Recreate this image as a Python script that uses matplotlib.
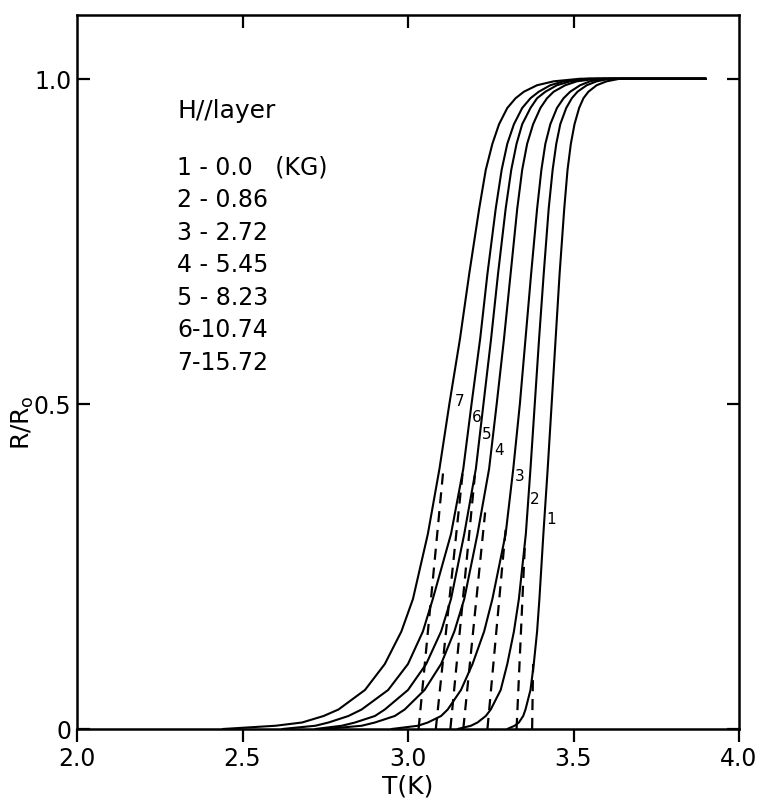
import matplotlib.pyplot as plt

# R/Ro levels where the curves were read, last point is the flat end at 3.9 K
r_levels = [0, 0.005, 0.01, 0.02, 0.03, 0.06, 0.1, 0.15, 0.2, 0.3, 0.4, 0.5,
            0.6, 0.7, 0.8, 0.86, 0.9, 0.93, 0.955, 0.97, 0.98, 0.99, 0.996,
            1.0, 1.0]

# temperature of each curve at those levels
t1 = [3.30, 3.322, 3.335, 3.348, 3.355, 3.37, 3.38, 3.39, 3.397, 3.409, 3.422,
      3.434, 3.446, 3.458, 3.472, 3.482, 3.492, 3.503, 3.517, 3.53, 3.545,
      3.57, 3.60, 3.64, 3.90]
t2 = [3.15, 3.19, 3.21, 3.235, 3.25, 3.28, 3.30, 3.32, 3.335, 3.356, 3.37,
      3.383, 3.396, 3.41, 3.425, 3.437, 3.448, 3.46, 3.478, 3.495, 3.512,
      3.54, 3.57, 3.61, 3.90]
t3 = [2.95, 3.03, 3.06, 3.10, 3.12, 3.16, 3.195, 3.23, 3.255, 3.295, 3.318,
      3.338, 3.355, 3.372, 3.39, 3.403, 3.415, 3.43, 3.45, 3.47, 3.49,
      3.52, 3.55, 3.59, 3.90]
t4 = [2.75, 2.86, 2.90, 2.96, 2.99, 3.05, 3.10, 3.14, 3.17, 3.21, 3.245,
      3.268, 3.29, 3.31, 3.33, 3.345, 3.36, 3.378, 3.40, 3.42, 3.44,
      3.475, 3.51, 3.57, 3.90]
t5 = [2.72, 2.80, 2.84, 2.90, 2.93, 3.00, 3.055, 3.10, 3.13, 3.17, 3.205,
      3.228, 3.251, 3.272, 3.295, 3.312, 3.328, 3.345, 3.37, 3.39, 3.415,
      3.45, 3.49, 3.55, 3.90]
t6 = [2.62, 2.72, 2.76, 2.82, 2.86, 2.94, 3.00, 3.045, 3.075, 3.13, 3.167,
      3.192, 3.218, 3.24, 3.265, 3.283, 3.30, 3.32, 3.345, 3.37, 3.395,
      3.43, 3.47, 3.54, 3.90]
t7 = [2.44, 2.60, 2.68, 2.745, 2.79, 2.87, 2.93, 2.98, 3.015, 3.06, 3.095,
      3.125, 3.157, 3.185, 3.215, 3.235, 3.255, 3.275, 3.30, 3.325, 3.35,
      3.39, 3.44, 3.52, 3.90]
curves = [t1, t2, t3, t4, t5, t6, t7]

# dashed extrapolations: foot on the T axis, top where they meet the curve
dash_t0 = [3.375, 3.328, 3.240, 3.167, 3.128, 3.084, 3.032]
dash_t_top = [3.378, 3.353, 3.296, 3.233, 3.202, 3.167, 3.107]
dash_r_top = [0.10, 0.282, 0.313, 0.333, 0.39, 0.403, 0.40]

# curve numbers
num_t = [3.431, 3.384, 3.336, 3.275, 3.238, 3.208, 3.157]
num_r = [0.323, 0.355, 0.39, 0.43, 0.455, 0.48, 0.505]

legend_title = "H//layer"
legend_rows = ["1 - 0.0   (KG)", "2 - 0.86", "3 - 2.72", "4 - 5.45",
               "5 - 8.23", "6-10.74", "7-15.72"]

plt.rcParams['font.family'] = ['DejaVu Sans']
fig = plt.figure(figsize=(7.6, 8.04), dpi=100)
ax = fig.add_axes([77 / 760, 1 - 730 / 804, 662 / 760, 714 / 804])

for t in curves:
    ax.plot(t, r_levels, color='black', lw=1.5, solid_joinstyle='round',
            solid_capstyle='round')

for i in range(len(dash_t0)):
    ax.plot([dash_t0[i], dash_t_top[i]], [0, dash_r_top[i]], color='black',
            lw=1.6, dashes=(5, 3.5))

for i in range(len(num_t)):
    ax.text(num_t[i], num_r[i], str(i + 1), fontsize=11, ha='center', va='center')

# legend block typed on the plot
ax.text(2.303, 0.952, legend_title, fontsize=18, ha='left', va='center')
for i, row in enumerate(legend_rows):
    ax.text(2.303, 0.865 - i * 0.05, row, fontsize=17, ha='left', va='center')

ax.set_xlim(2.0, 4.0)
ax.set_ylim(0, 1.098)
ax.set_xticks([2.0, 2.5, 3.0, 3.5, 4.0])
ax.set_xticklabels(['2.0', '2.5', '3.0', '3.5', '4.0'])
ax.set_yticks([0, 0.5, 1.0])
ax.set_yticklabels(['0', '0.5', '1.0'])
ax.tick_params(axis='x', direction='out', length=9, width=1.6, labelsize=17, pad=3)
ax.tick_params(axis='y', direction='in', length=9, width=1.6, labelsize=17,
               right=True, pad=4)
top = ax.secondary_xaxis('top')
top.set_xticks([2.5, 3.0, 3.5])
top.tick_params(direction='in', length=9, width=1.6, labeltop=False)
for s in top.spines.values():
    s.set_visible(False)
for s in ax.spines.values():
    s.set_linewidth(1.8)

ax.set_xlabel('T(K)', fontsize=18, labelpad=3)
ax.set_ylabel(r'R/R$_{\mathrm{o}}$', fontsize=18, labelpad=2)
ax.yaxis.set_label_coords(-0.062, 0.43)

fig.savefig('out.png', dpi=100)
